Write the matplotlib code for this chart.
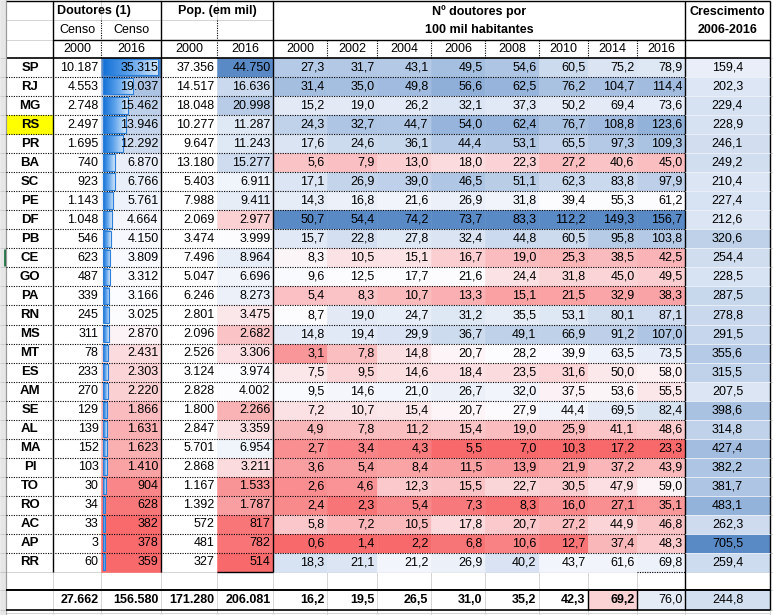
import numpy as np
import matplotlib
matplotlib.use("Agg")
import matplotlib.pyplot as plt
from matplotlib.patches import Rectangle
from matplotlib.colors import LinearSegmentedColormap, to_rgb

# ---- data read from the spreadsheet ----
states = ["SP", "RJ", "MG", "RS", "PR", "BA", "SC", "PE", "DF", "PB", "CE", "GO", "PA", "RN",
          "MS", "MT", "ES", "AM", "SE", "AL", "MA", "PI", "TO", "RO", "AC", "AP", "RR"]
doc_2000 = [10187, 4553, 2748, 2497, 1695, 740, 923, 1143, 1048, 546, 623, 487, 339, 245,
            311, 78, 233, 270, 129, 139, 152, 103, 30, 34, 33, 3, 60]
doc_2016 = [35315, 19037, 15462, 13946, 12292, 6870, 6766, 5761, 4664, 4150, 3809, 3312, 3166, 3025,
            2870, 2431, 2303, 2220, 1866, 1631, 1623, 1410, 904, 628, 382, 378, 359]
pop_2000 = [37356, 14517, 18048, 10277, 9647, 13180, 5403, 7988, 2069, 3474, 7496, 5047, 6246, 2801,
            2096, 2526, 3124, 2828, 1800, 2847, 5701, 2868, 1167, 1392, 572, 481, 327]
pop_2016 = [44750, 16636, 20998, 11287, 11243, 15277, 6911, 9411, 2977, 3999, 8964, 6696, 8273, 3475,
            2682, 3306, 3974, 4002, 2266, 3359, 6954, 3211, 1533, 1787, 817, 782, 514]

rate_years = ["2000", "2002", "2004", "2006", "2008", "2010", "2014", "2016"]
rate_2000 = [27.3, 31.4, 15.2, 24.3, 17.6, 5.6, 17.1, 14.3, 50.7, 15.7, 8.3, 9.6, 5.4, 8.7,
             14.8, 3.1, 7.5, 9.5, 7.2, 4.9, 2.7, 3.6, 2.6, 2.4, 5.8, 0.6, 18.3]
rate_2002 = [31.7, 35.0, 19.0, 32.7, 24.6, 7.9, 26.9, 16.8, 54.4, 22.8, 10.5, 12.5, 8.3, 19.0,
             19.4, 7.8, 9.5, 14.6, 10.7, 7.8, 3.4, 5.4, 4.6, 2.3, 7.2, 1.4, 21.1]
rate_2004 = [43.1, 49.8, 26.2, 44.7, 36.1, 13.0, 39.0, 21.6, 74.2, 27.8, 15.1, 17.7, 10.7, 24.7,
             29.9, 14.8, 14.6, 21.0, 15.4, 11.2, 4.3, 8.4, 12.3, 5.4, 10.5, 2.2, 21.2]
rate_2006 = [49.5, 56.6, 32.1, 54.0, 44.4, 18.0, 46.5, 26.9, 73.7, 32.4, 16.7, 21.6, 13.3, 31.2,
             36.7, 20.7, 18.4, 26.7, 20.7, 15.4, 5.5, 11.5, 15.5, 7.3, 17.8, 6.8, 26.9]
rate_2008 = [54.6, 62.5, 37.3, 62.4, 53.1, 22.3, 51.1, 31.8, 83.3, 44.8, 19.0, 24.4, 15.1, 35.5,
             49.1, 28.2, 23.5, 32.0, 27.9, 19.0, 7.0, 13.9, 22.7, 8.3, 20.7, 10.6, 40.2]
rate_2010 = [60.5, 76.2, 50.2, 76.7, 65.5, 27.2, 62.3, 39.4, 112.2, 60.5, 25.3, 31.8, 21.5, 53.1,
             66.9, 39.9, 31.6, 37.5, 44.4, 25.9, 10.3, 21.9, 30.5, 16.0, 27.2, 12.7, 43.7]
rate_2014 = [75.2, 104.7, 69.4, 108.8, 97.3, 40.6, 83.8, 55.3, 149.3, 95.8, 38.5, 45.0, 32.9, 80.1,
             91.2, 63.5, 50.0, 53.6, 69.5, 41.1, 17.2, 37.2, 47.9, 27.1, 44.9, 37.4, 61.6]
rate_2016 = [78.9, 114.4, 73.6, 123.6, 109.3, 45.0, 97.9, 61.2, 156.7, 103.8, 42.5, 49.5, 38.3, 87.1,
             107.0, 73.5, 58.0, 55.5, 82.4, 48.6, 23.3, 43.9, 59.0, 35.1, 46.8, 48.3, 69.8]
growth = [159.4, 202.3, 229.4, 228.9, 246.1, 249.2, 210.4, 227.4, 212.6, 320.6, 254.4, 228.5, 287.5, 278.8,
          291.5, 355.6, 315.5, 207.5, 398.6, 314.8, 427.4, 382.2, 381.7, 483.1, 262.3, 705.5, 259.4]

total_doc = [27662, 156580]
total_pop = [171280, 206081]
total_rate = [16.2, 19.5, 26.5, 31.0, 35.2, 42.3, 69.2, 76.0]
total_growth = 244.8

rates = [rate_2000, rate_2002, rate_2004, rate_2006, rate_2008, rate_2010, rate_2014, rate_2016]

# ---- styling ----
plt.rcParams["font.family"] = ["Liberation Sans", "DejaVu Sans"]
FS = 9
RED = np.array(to_rgb("#F8696B"))
WHITE = np.array(to_rgb("#FCFCFF"))
BLUE = np.array(to_rgb("#5A8AC6"))
GRID = "#D4D4D4"


def fmt_int(v):
    return f"{v:,}".replace(",", ".")


def fmt_dec(v):
    return f"{v:.1f}".replace(".", ",")


def scale3(vals):
    # excel style 3-colour scale: min red, 50th percentile white, max blue
    v = np.asarray(vals, float)
    lo, mid, hi = v.min(), np.median(v), v.max()
    out = []
    for x in v:
        if x <= mid:
            t = (x - lo) / (mid - lo)
            out.append(RED + t * (WHITE - RED))
        else:
            t = (x - mid) / (hi - mid)
            out.append(WHITE + t * (BLUE - WHITE))
    return out


def scale2(vals, extra):
    v = np.asarray(vals, float)
    lo, hi = v.min(), v.max()
    return [WHITE + (0.12 + 0.88 * (x - lo) / (hi - lo)) * (BLUE - WHITE) for x in list(v) + [extra]]


# ---- layout (pixels) ----
W, H = 773, 615
edges = [6, 53, 101, 161, 217, 273, 327, 377, 431, 485, 539, 588, 637, 685, 770]
hdr = [1, 20, 40, 58]
n = len(states)
top, bottom = 58, 572
rh = (bottom - top) / n
row_y = [top + rh * i for i in range(n + 1)]
tot_top, tot_bot = 590, 610

fig = plt.figure(figsize=(W / 100, H / 100), dpi=100)
ax = fig.add_axes([0, 0, 1, 1])
ax.set_axis_off()


def cell(x0, x1, y0, y1, color):
    ax.add_patch(Rectangle((x0, y0), x1 - x0, y1 - y0, facecolor=color, edgecolor=color, lw=0.4, zorder=1))


def hline(y, x0, x1, color="black", lw=0.8, ls="-", z=3):
    ax.plot([x0, x1], [y, y], color=color, lw=lw, ls=ls, zorder=z, solid_capstyle="butt")


def vline(x, y0, y1, color="black", lw=0.8, ls="-", z=3):
    ax.plot([x, x], [y0, y1], color=color, lw=lw, ls=ls, zorder=z, solid_capstyle="butt")


# excel row-header strip and faint gridlines in the empty area
cell(0, 6, 0, H, "#E6E6E6")
vline(6, 0, H, color="#B0B0B0", lw=0.8)
ci = states.index("CE")
vline(4.5, row_y[ci] + 1, row_y[ci + 1] - 1, color="#217346", lw=2)
for y in row_y + [bottom, tot_top, tot_bot]:
    hline(y, 0, 6, color="#C8C8C8", lw=0.6, z=2)
    hline(y, 770, W, color=GRID, lw=0.6, z=0)
for x in edges:
    vline(x, bottom, tot_bot + 5, color=GRID, lw=0.7, z=0)
for x in edges[:6]:
    vline(x, 0, hdr[1], color=GRID, lw=0.7, z=0)
hline(bottom, 6, 770, color=GRID, lw=0.7, z=0)
hline(hdr[1], 6, 273, color=GRID, lw=0.7, z=0)
hline(hdr[2], 6, 53, color=GRID, lw=0.7, z=0)
hline(613, 6, 770, color=GRID, lw=0.7, z=0)

# ---- cell fills ----
ri = states.index("RS")
cell(6, 53, row_y[ri], row_y[ri + 1], "#FFFF00")

doc_cols = scale3(doc_2016)
pop_cols = scale3(pop_2016)
rate_cols = [scale3(r) for r in rates]
gr_cols = scale2(growth, total_growth)

for i in range(n):
    y0, y1 = row_y[i], row_y[i + 1]
    cell(edges[2], edges[3], y0, y1, doc_cols[i])
    cell(edges[4], edges[5], y0, y1, pop_cols[i])
    for j in range(8):
        cell(edges[5 + j], edges[6 + j], y0, y1, rate_cols[j][i])
    cell(edges[13], edges[14], y0, y1, gr_cols[i])
cell(edges[13], edges[14], tot_top, tot_bot, gr_cols[-1])
total_fill = {6: "#FBD3D5", 7: "#E6ECF6"}
for j, c in total_fill.items():
    cell(edges[5 + j], edges[6 + j], tot_top, tot_bot, c)

# ---- data bars on Doutores 2016 ----
bar_cmap = LinearSegmentedColormap.from_list("bar", ["#1270D6", "#62A5EC", "#D2E6FA"])
grad = np.linspace(0, 1, 128)[None, :]
dmax = max(doc_2016)
bx0 = edges[2] + 2
bmax = edges[3] - bx0 - 3
for i, v in enumerate(doc_2016):
    length = 1.5 + v / dmax * (bmax - 1.5)
    y0, y1 = row_y[i] + 1.2, row_y[i + 1] - 1.6
    ax.imshow(grad, cmap=bar_cmap, extent=(bx0, bx0 + length, y1, y0), aspect="auto",
              interpolation="bilinear", zorder=2)
    ax.add_patch(Rectangle((bx0, y0), length, y1 - y0, fill=False, edgecolor="#2B7FD8", lw=0.8, zorder=2.5))

# ---- borders ----
# header
hline(hdr[0], 6, 770, lw=1.0)
hline(hdr[2], 53, 770, lw=1.0)
hline(hdr[3], 6, 770, lw=1.2)
vline(edges[2], hdr[1], hdr[3], ls=(0, (1, 1.2)))
vline(edges[4], hdr[1], hdr[3], ls=(0, (1, 1.2)))
for x in edges[6:13]:
    vline(x, hdr[2], hdr[3], ls=(0, (1, 1.2)))
# solid column dividers
for x in [edges[1], edges[3], edges[5]]:
    vline(x, hdr[0], bottom, lw=1.0)
vline(edges[13], hdr[0], tot_bot, lw=1.0)
vline(edges[14], hdr[0], tot_bot, lw=1.0)
vline(edges[0], hdr[0], tot_bot, color="#9A9A9A", lw=0.8)
# dotted row separators
for y in row_y[1:-1]:
    hline(y, 6, 685, ls=(0, (1, 1.2)), lw=0.8)
    hline(y, 685, 770, color="#EEF2F8", lw=0.6)
hline(bottom, edges[4], edges[5], lw=1.0)
hline(bottom, edges[12], edges[13], ls=(0, (1, 1.2)), lw=0.8)
# total row
hline(tot_top, 6, 770, lw=1.4)
hline(tot_bot, 6, 770, lw=1.2)
vline(edges[11], tot_top, tot_bot, lw=1.0)
vline(edges[12], tot_top, tot_bot, lw=1.0)

# ---- header text ----
ax.text(57, 11, "Doutores (1)", fontsize=FS, fontweight="bold", ha="left", va="center", zorder=5)
ax.text((edges[3] + edges[5]) / 2, 11, "Pop. (em mil)", fontsize=FS, fontweight="bold", ha="center", va="center", zorder=5)
ax.text((edges[5] + edges[13]) / 2, 12, "Nº doutores por", fontsize=FS, fontweight="bold", ha="center", va="center", zorder=5)
ax.text((edges[5] + edges[13]) / 2, 30, "100 mil habitantes", fontsize=FS, fontweight="bold", ha="center", va="center", zorder=5)
ax.text((edges[13] + edges[14]) / 2, 12, "Crescimento", fontsize=FS, fontweight="bold", ha="center", va="center", zorder=5)
ax.text((edges[13] + edges[14]) / 2, 30, "2006-2016", fontsize=FS, fontweight="bold", ha="center", va="center", zorder=5)
for k in (1, 2):
    ax.text((edges[k] + edges[k + 1]) / 2, 30, "Censo", fontsize=FS, ha="center", va="center", zorder=5)
top_years = ["2000", "2016", "2000", "2016"] + rate_years
for k, lab in enumerate(top_years):
    ax.text((edges[k + 1] + edges[k + 2]) / 2, 49.5, lab, fontsize=FS, ha="center", va="center", zorder=5)

# ---- body text ----
pad = 2.5
for i, st in enumerate(states):
    yc = (row_y[i] + row_y[i + 1]) / 2
    ax.text(30, yc, st, fontsize=FS + 0.5, fontweight="bold", ha="center", va="center", zorder=5)
    row_vals = [fmt_int(doc_2000[i]), fmt_int(doc_2016[i]), fmt_int(pop_2000[i]), fmt_int(pop_2016[i])]
    row_vals += [fmt_dec(r[i]) for r in rates]
    for k, s in enumerate(row_vals):
        ax.text(edges[k + 2] - pad, yc, s, fontsize=FS, ha="right", va="center", zorder=5)
    ax.text((edges[13] + edges[14]) / 2, yc, fmt_dec(growth[i]), fontsize=FS, ha="center", va="center", zorder=5)

yc = (tot_top + tot_bot) / 2
tot_vals = [fmt_int(v) for v in total_doc + total_pop] + [fmt_dec(v) for v in total_rate]
for k, s in enumerate(tot_vals):
    bold = "normal" if k == len(tot_vals) - 1 else "bold"
    ax.text(edges[k + 2] - pad, yc, s, fontsize=FS, fontweight=bold, ha="right", va="center", zorder=5)
ax.text((edges[13] + edges[14]) / 2, yc, fmt_dec(total_growth), fontsize=FS, ha="center", va="center", zorder=5)

ax.set_xlim(0, W)
ax.set_ylim(H, 0)
ax.set_aspect("auto")
fig.savefig("out.png", dpi=100)
